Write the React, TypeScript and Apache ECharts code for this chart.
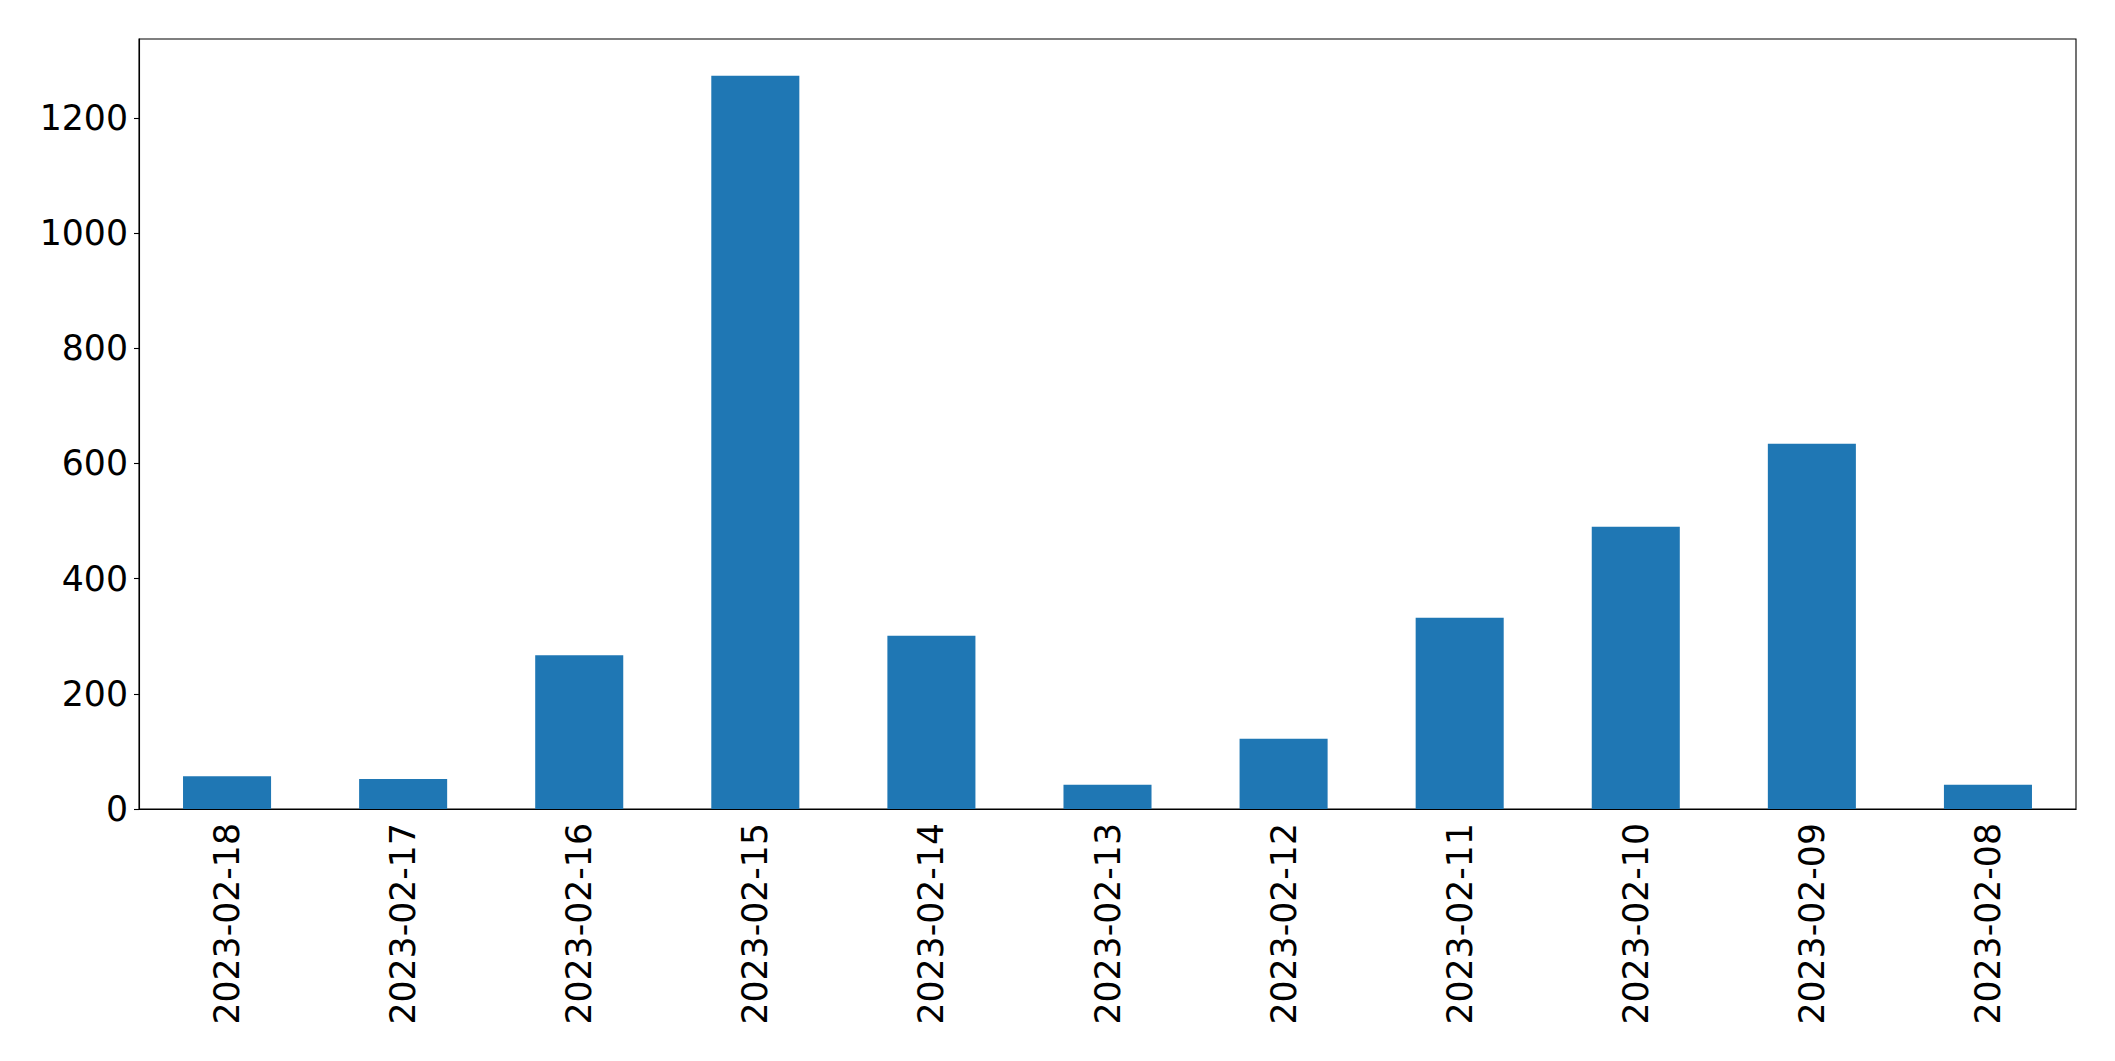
import React, { useEffect, useRef } from "react";
import * as echarts from "echarts";

const categories = [
  "2023-02-18",
  "2023-02-17",
  "2023-02-16",
  "2023-02-15",
  "2023-02-14",
  "2023-02-13",
  "2023-02-12",
  "2023-02-11",
  "2023-02-10",
  "2023-02-09",
  "2023-02-08",
];
const values = [57, 52, 267, 1273, 301, 42, 122, 332, 490, 634, 42];
const yMin = 0;
const yMax = 1337;
const yInterval = 200;

export default function App() {
  const ref = useRef<HTMLDivElement>(null);
  useEffect(() => {
    if (!ref.current) return;
    const chart = echarts.init(ref.current, undefined, { renderer: "svg" });
    const font = "DejaVu Sans";
    chart.setOption({
      animation: false,
      backgroundColor: "#ffffff",
      grid: {
        left: 139,
        right: 39,
        top: 39,
        bottom: 252,
        show: true,
        borderColor: "#000000",
        borderWidth: 1.1,
        backgroundColor: "transparent",
      },
      xAxis: {
        type: "category",
        data: categories,
        axisLine: { lineStyle: { color: "#000000", width: 1.1 } },
        axisTick: {
          alignWithLabel: true,
          length: 5,
          lineStyle: { color: "#000000", width: 1.1 },
        },
        axisLabel: {
          rotate: 90,
          margin: 14,
          fontSize: 34.7,
          color: "#000000",
          fontFamily: font,
          interval: 0,
        },
        splitLine: { show: false },
      },
      yAxis: {
        type: "value",
        min: yMin,
        max: yMax,
        interval: yInterval,
        axisLine: { show: true, lineStyle: { color: "#000000", width: 1.1 } },
        axisTick: {
          show: true,
          length: 5,
          lineStyle: { color: "#000000", width: 1.1 },
        },
        axisLabel: {
          margin: 11,
          fontSize: 34.7,
          color: "#000000",
          fontFamily: font,
          showMaxLabel: false,
          formatter: (v: number) => String(v),
        },
        splitLine: { show: false },
      },
      series: [
        {
          type: "bar",
          data: values,
          barWidth: "50%",
          itemStyle: { color: "#1f77b4" },
        },
      ],
    });
    return () => chart.dispose();
  }, []);
  return (
    <div
      ref={ref}
      style={{ position: "fixed", left: 0, top: 0, width: 2115, height: 1061, background: "#fff" }}
    />
  );
}
